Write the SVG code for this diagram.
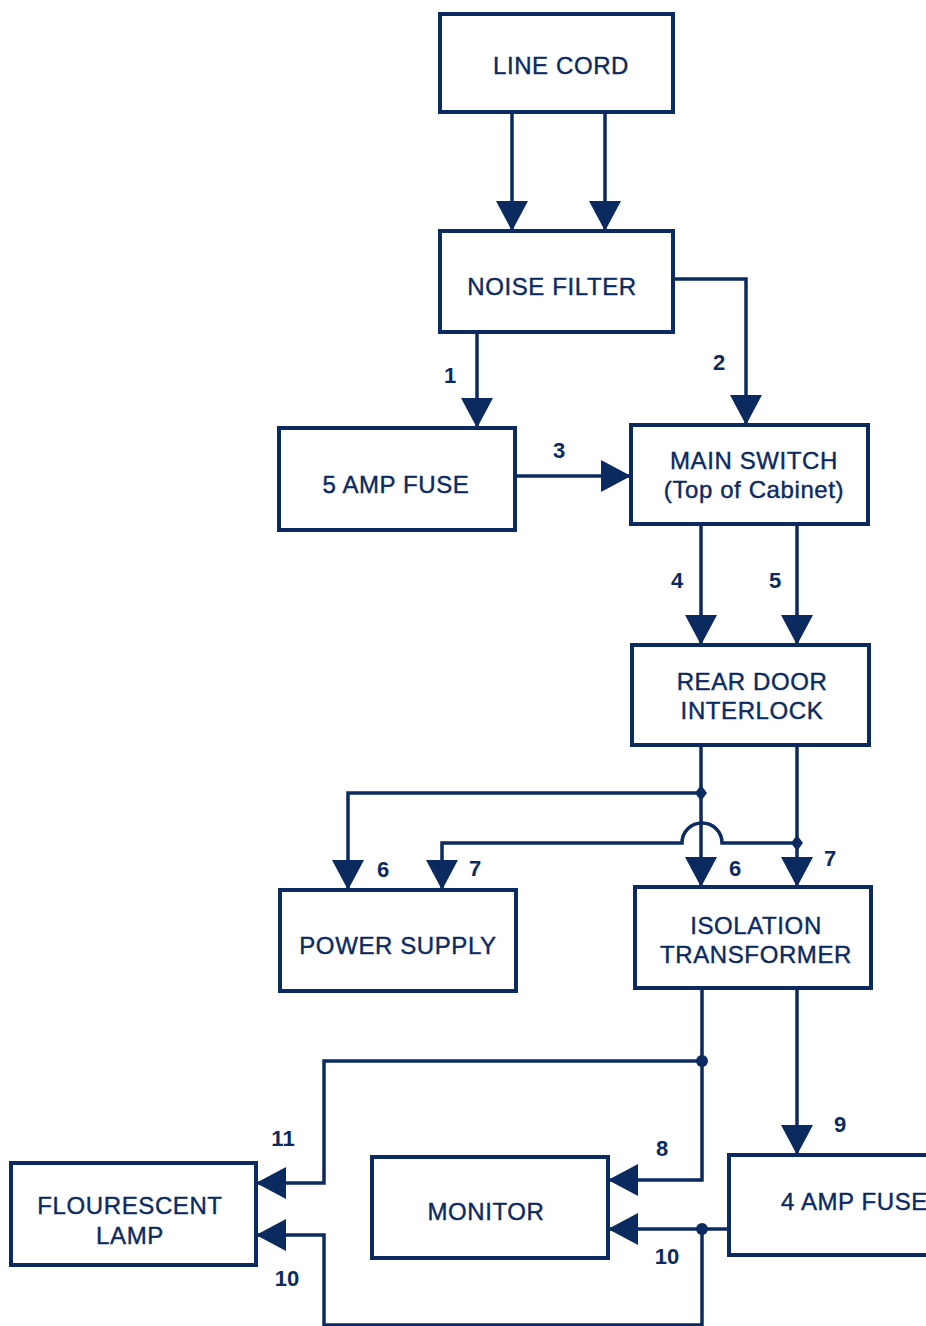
<svg xmlns="http://www.w3.org/2000/svg" width="926" height="1326" viewBox="0 0 926 1326">
<style>
.box{fill:#fff;stroke:#0b2a5f;stroke-width:4}
.ln{fill:none;stroke:#0b2a5f;stroke-width:3.5}
.t{font-family:"Liberation Sans",Arial,sans-serif;font-size:24px;letter-spacing:0.6px;fill:#0b2a5f;stroke:#0b2a5f;stroke-width:0.4;text-anchor:middle}
.n{font-family:"Liberation Sans",Arial,sans-serif;font-size:22px;font-weight:bold;fill:#0b2a5f;text-anchor:middle}
.j{fill:#0b2a5f}
</style>
<defs>
<marker id="ah" markerUnits="userSpaceOnUse" viewBox="0 0 30 32" refX="30" refY="16" markerWidth="30" markerHeight="32" orient="auto">
<path d="M0,0 L30,16 L0,32 Z" fill="#0b2a5f"/>
</marker>
</defs>
<rect width="926" height="1326" fill="#fff"/>
<g id="connectors">
<path class="ln" d="M512,112 V231" marker-end="url(#ah)"/>
<path class="ln" d="M605,112 V231" marker-end="url(#ah)"/>
<path class="ln" d="M477,332 V428" marker-end="url(#ah)"/>
<path class="ln" d="M673,279 H746 V425" marker-end="url(#ah)"/>
<path class="ln" d="M515,476 H631" marker-end="url(#ah)"/>
<path class="ln" d="M701,524 V645" marker-end="url(#ah)"/>
<path class="ln" d="M797,524 V645" marker-end="url(#ah)"/>
<path class="ln" d="M701,745 V887" marker-end="url(#ah)"/>
<path class="ln" d="M701,793 H348 V890" marker-end="url(#ah)"/>
<path class="ln" d="M797,745 V887" marker-end="url(#ah)"/>
<path class="ln" d="M797,843 H722 A20,20 0 0 0 682,843 H442 V890" marker-end="url(#ah)"/>
<path class="ln" d="M702,988 V1180 H608" marker-end="url(#ah)"/>
<path class="ln" d="M702,1061 H324 V1183 H256" marker-end="url(#ah)"/>
<path class="ln" d="M797,988 V1155" marker-end="url(#ah)"/>
<path class="ln" d="M729,1229 H608" marker-end="url(#ah)"/>
<path class="ln" d="M702,1229 V1325 H324 V1235 H256" marker-end="url(#ah)"/>
<path class="j" d="M701,785 L707,793 L701,801 L695,793 Z"/>
<path class="j" d="M797,835 L803,843 L797,851 L791,843 Z"/>
<circle class="j" cx="702" cy="1061" r="6"/>
<circle class="j" cx="702" cy="1229" r="6"/>
<text class="n" x="450" y="383">1</text>
<text class="n" x="719" y="370">2</text>
<text class="n" x="559" y="458">3</text>
<text class="n" x="677" y="588">4</text>
<text class="n" x="775" y="588">5</text>
<text class="n" x="383" y="877">6</text>
<text class="n" x="475" y="876">7</text>
<text class="n" x="735" y="876">6</text>
<text class="n" x="830" y="866">7</text>
<text class="n" x="662" y="1156">8</text>
<text class="n" x="840" y="1132">9</text>
<text class="n" x="283" y="1146">11</text>
<text class="n" x="667" y="1264">10</text>
<text class="n" x="287" y="1286">10</text>
</g>
<g id="line-cord"><rect class="box" x="440" y="14" width="233" height="98"/><text class="t" x="561" y="74">LINE CORD</text></g>
<g id="noise-filter"><rect class="box" x="440" y="231" width="233" height="101"/><text class="t" x="552" y="295">NOISE FILTER</text></g>
<g id="fuse-5amp"><rect class="box" x="279" y="428" width="236" height="102"/><text class="t" x="396" y="493">5 AMP FUSE</text></g>
<g id="main-switch"><rect class="box" x="631" y="425" width="237" height="99"/><text class="t" x="754" y="469">MAIN SWITCH</text><text class="t" x="754" y="498">(Top of Cabinet)</text></g>
<g id="rear-door-interlock"><rect class="box" x="632" y="645" width="237" height="100"/><text class="t" x="752" y="690">REAR DOOR</text><text class="t" x="752" y="719">INTERLOCK</text></g>
<g id="power-supply"><rect class="box" x="280" y="890" width="236" height="101"/><text class="t" x="398" y="954">POWER SUPPLY</text></g>
<g id="isolation-transformer"><rect class="box" x="635" y="887" width="236" height="101"/><text class="t" x="756" y="934">ISOLATION</text><text class="t" x="756" y="963">TRANSFORMER</text></g>
<g id="flourescent-lamp"><rect class="box" x="11" y="1163" width="245" height="102"/><text class="t" x="130" y="1214">FLOURESCENT</text><text class="t" x="130" y="1244">LAMP</text></g>
<g id="monitor"><rect class="box" x="372" y="1157" width="236" height="101"/><text class="t" x="486" y="1220">MONITOR</text></g>
<g id="fuse-4amp"><rect class="box" x="729" y="1155" width="220" height="100"/><text class="t" x="781" y="1210" style="text-anchor:start">4 AMP FUSE</text></g>
</svg>
